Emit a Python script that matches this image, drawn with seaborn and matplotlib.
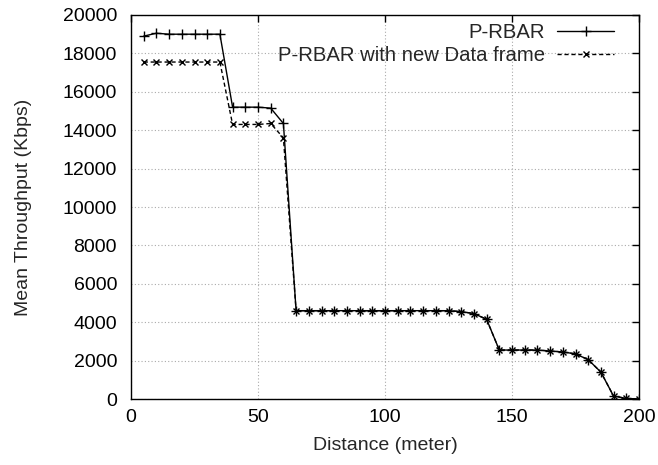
import matplotlib
matplotlib.use("Agg")
import matplotlib.pyplot as plt
import seaborn as sns
import pandas as pd
import numpy as np

distance = list(range(5, 205, 5))

prbar = [18900, 19050, 19000, 19000, 19000, 19000, 19000,
         15200, 15200, 15200, 15150, 14350,
         4600, 4600, 4600, 4600, 4600, 4600, 4600, 4600, 4600, 4600, 4600, 4600, 4600,
         4550, 4450, 4150,
         2550, 2550, 2550, 2550, 2500, 2450, 2350, 2050, 1400, 150, 30, 0]

prbar_new = [17550, 17550, 17550, 17550, 17550, 17550, 17550,
             14300, 14300, 14300, 14350, 13600,
             4600, 4600, 4600, 4600, 4600, 4600, 4600, 4600, 4600, 4600, 4600, 4600, 4600,
             4550, 4450, 4150,
             2550, 2550, 2550, 2550, 2500, 2450, 2350, 2050, 1400, 150, 30, 0]

df = pd.DataFrame({'distance': distance, 'P-RBAR': prbar,
                   'P-RBAR with new Data frame': prbar_new})

sns.set_style("white")
plt.rcParams['font.family'] = ['Liberation Sans', 'DejaVu Sans']

fig = plt.figure(figsize=(6.58, 4.65), dpi=100)
ax = fig.add_axes([131 / 658, 66 / 465, 508 / 658, 384 / 465])

sns.lineplot(df, x='distance', y='P-RBAR', ax=ax, color='black', lw=1,
             marker='+', markersize=7.5, mew=1, mec='black', label='P-RBAR')
sns.lineplot(df, x='distance', y='P-RBAR with new Data frame', ax=ax, color='black',
             lw=1, linestyle=(0, (3, 2)), marker='x', markersize=5, mew=1, mec='black',
             label='P-RBAR with new Data frame')

ax.set_xlim(0, 200)
ax.set_ylim(0, 20000)
ax.set_xticks(np.arange(0, 201, 50))
ax.set_yticks(np.arange(0, 20001, 2000))
ax.grid(True, color='#aaaaaa', linestyle=(0, (1, 2)), linewidth=0.8)
ax.tick_params(direction='in', length=5, width=1, top=True, right=True,
               labelsize=14, colors='black')
ax.tick_params(axis='x', pad=7)
ax.tick_params(axis='y', pad=10)
for s in ax.spines.values():
    s.set_color('black')
    s.set_linewidth(1)

ax.set_xlabel('Distance (meter)', fontsize=14, labelpad=8)
ax.set_ylabel('Mean Throughput (Kbps)', fontsize=14, labelpad=22)

ax.legend(loc='upper right', frameon=False, markerfirst=False, fontsize=14.6,
          handlelength=2.8, handletextpad=0.6, borderaxespad=0, borderpad=0,
          labelspacing=0.2, bbox_to_anchor=(0.951, 0.98))

fig.savefig('out.png', dpi=100)
